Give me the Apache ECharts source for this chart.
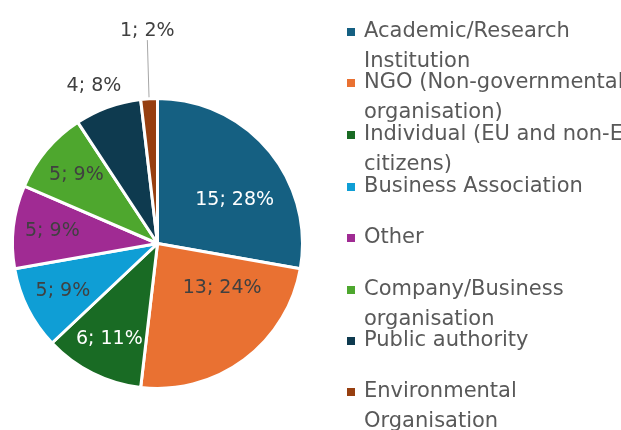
<!DOCTYPE html>
<html>
<head>
<meta charset="utf-8">
<script src="https://cdn.jsdelivr.net/npm/echarts@6/dist/echarts.min.js"></script>
<style>
  html, body { margin: 0; padding: 0; background: #fff; }
  #chart { width: 621px; height: 430px; }
</style>
</head>
<body>
<div id="chart"></div>
<script>
// categories and counts
const categories = [
  'Academic/Research\nInstitution',
  'NGO (Non-governmental\norganisation)',
  'Individual (EU and non-EU\ncitizens)',
  'Business Association',
  'Other',
  'Company/Business\norganisation',
  'Public authority',
  'Environmental\nOrganisation'
];
const values = [15, 13, 6, 5, 5, 5, 4, 1];

const colors = ['#156082', '#E97132', '#196B24', '#0F9ED5', '#A02B93', '#4EA72E', '#0E3A4F', '#973F10'];
const labelColors = ['#ffffff', '#404040', '#ffffff', '#404040', '#404040', '#404040', '#404040', '#404040'];
// label placement: distance as fraction of radius, angle nudge in degrees from the slice middle
const labelDist = [0.61, 0.54, 0.74, 0.73, 0.73, 0.73, 1.17, 1.47];
const labelNudge = [10.7, -19, 0, 0, 0, 0, -2, 0.6];
// legend marker centres (y)
const legendY = [32, 83, 135, 187, 238, 290, 341, 392];

const cx = 157.5, cy = 243.5, R = 145;
const lineH = 30;

const total = values.reduce((a, b) => a + b, 0);
let acc = 0;
const mids = values.map(v => {
  const m = (acc + v / 2) / total * 360;
  acc += v;
  return m;
});

const chart = echarts.init(document.getElementById('chart'));

// one legend per entry so the rows keep the spacing of the original
const legends = categories.map((name, i) => {
  const twoLines = name.indexOf('\n') >= 0;
  const h = twoLines ? lineH * 3 : lineH;
  return {
    orient: 'vertical',
    left: 345,
    top: legendY[i] - h / 2,
    padding: 0,
    itemWidth: 10,
    itemHeight: 10,
    icon: 'rect',
    selectedMode: false,
    data: [name],
    // blank first line keeps the marker level with the first text line
    formatter: function (n) {
      return n.indexOf('\n') >= 0 ? '\n' + n : n;
    },
    textStyle: {
      fontFamily: 'DejaVu Sans',
      fontSize: 21,
      lineHeight: lineH,
      color: '#595959',
      padding: [0, 0, 0, 3]
    }
  };
});

chart.setOption({
  animation: false,
  color: colors,
  legend: legends,
  series: [
    {
      type: 'pie',
      center: [cx, cy],
      radius: R,
      startAngle: 90,
      clockwise: true,
      percentPrecision: 0,
      avoidLabelOverlap: false,
      itemStyle: { borderColor: '#ffffff', borderWidth: 3 },
      label: {
        position: 'inside',
        fontFamily: 'DejaVu Sans',
        fontSize: 19,
        formatter: '{c}; {d}%'
      },
      labelLine: { show: false },
      labelLayout: function (params) {
        const i = params.dataIndex;
        const a = (mids[i] + labelNudge[i]) * Math.PI / 180;
        const rr = R * labelDist[i];
        return {
          x: cx + Math.sin(a) * rr,
          y: cy - Math.cos(a) * rr,
          align: 'center',
          verticalAlign: 'middle'
        };
      },
      data: categories.map((name, i) => {
        const item = {
          name: name,
          value: values[i],
          label: { color: labelColors[i] }
        };
        if (i >= 6) {
          item.label.position = 'outside';
        }
        if (i === 7) {
          item.labelLine = {
            show: true,
            length: 50,
            length2: 0,
            lineStyle: { color: '#A6A6A6', width: 1 }
          };
        }
        return item;
      })
    }
  ]
});
</script>
</body>
</html>
